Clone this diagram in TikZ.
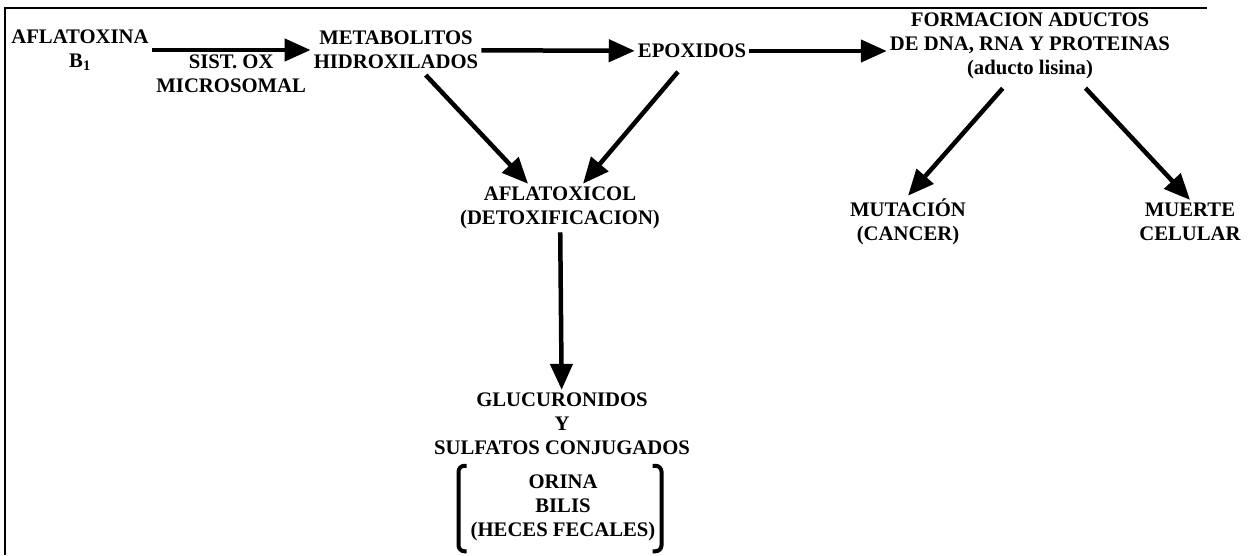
\documentclass[tikz,border=0pt]{standalone}
\usepackage{fontspec}
\setmainfont{Liberation Serif}
\usetikzlibrary{arrows.meta}

\begin{document}
\begin{tikzpicture}[x=1pt,y=-1pt,
		txt/.style={font=\fontsize{20.7}{24}\selectfont\bfseries,align=center,inner sep=3pt},
		flow/.style={line width=4.5pt,-{Triangle[length=26pt,width=22pt]}},
		brk/.style={line width=4pt,rounded corners=6pt}
		]
		\useasboundingbox (0,0) rectangle (1252,555);
		%Draw frame
		\draw[line width=2pt] (5,555) -- (5,8) -- (1207,8);
		%Top row
		\path (80,50) node[txt] (afla) {AFLATOXINA\\B\textsubscript{1}}
		+(316,0) node[txt] (metab) {METABOLITOS\\HIDROXILADOS}
		+(612,1) node[txt] (epox) {EPOXIDOS}
		+(950,-4) node[txt] (adu) {FORMACION ADUCTOS\\DE DNA, RNA Y PROTEINAS\\(aducto lisina)};
		%Centre column
		\path (560,208) node[txt] (aflcol) {AFLATOXICOL\\(DETOXIFICACION)}
		+(2,216) node[txt] (gluc) {GLUCURONIDOS\\Y\\SULFATOS CONJUGADOS}
		+(3,300) node[txt] (excr) {ORINA\\BILIS\\(HECES FECALES)};
		%Right branch
		\path (908,222) node[txt] (mut) {MUTACIÓN\\(CANCER)}
		+(282,0) node[txt] (muer) {MUERTE\\CELULAR};
		
		\draw[flow] (afla) -- (metab) node[txt,midway,below] (sistox) {SIST. OX\\MICROSOMAL};
		\draw[flow] (metab) -- (epox);
		\draw[flow] (epox) -- (epox -| adu.west);
		\draw[flow,shorten <=4pt] ([xshift=27pt]metab.south) -- ([xshift=-32pt]aflcol.north);
		\draw[flow,shorten <=14pt] ([xshift=-5pt]epox.south) -- ([xshift=23pt]aflcol.north);
		\draw[flow] (aflcol) -- (gluc);
		\draw[flow,shorten <=8pt] ([xshift=-22pt]adu.south) -- (mut.north);
		\draw[flow,shorten <=8pt] ([xshift=50pt]adu.south) -- (muer.north);
		%Brackets
		\draw[brk] ([xshift=-1pt,yshift=6pt]excr.north west) -- ([xshift=-9pt,yshift=6pt]excr.north west) -- ([xshift=-9pt,yshift=-7pt]excr.south west) -- ([xshift=-1pt,yshift=-7pt]excr.south west);
		\draw[brk] ([xshift=-6pt,yshift=6pt]excr.north east) -- ([xshift=3pt,yshift=6pt]excr.north east) -- ([xshift=3pt,yshift=-7pt]excr.south east) -- ([xshift=-6pt,yshift=-7pt]excr.south east);
	\end{tikzpicture}
\end{document}
